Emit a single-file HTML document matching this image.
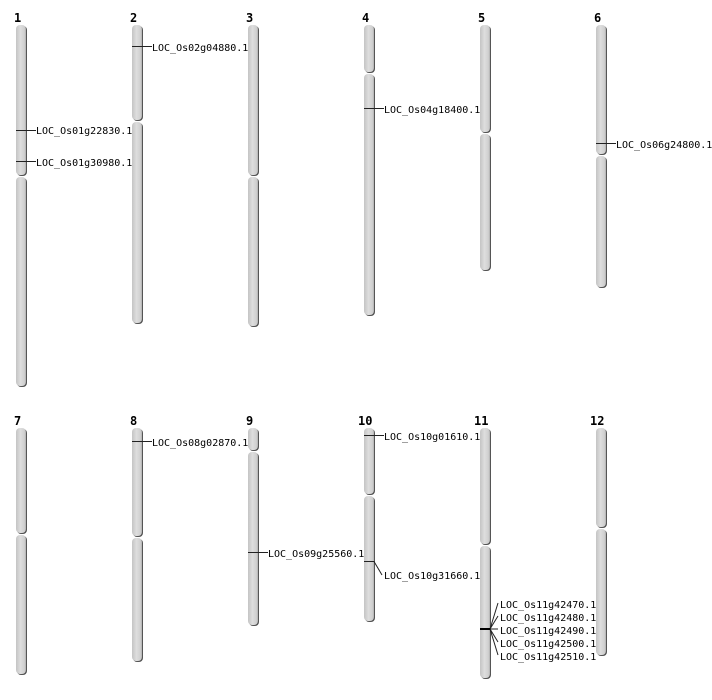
<!DOCTYPE html>
<html><head><meta charset="utf-8"><style>body{margin:0;background:#fff}svg{display:block}text{font-family:"DejaVu Sans Mono","Liberation Mono",monospace;font-size:10px;fill:#000}.n{font-weight:bold;font-size:12px}</style></head><body>
<svg width="712" height="700" viewBox="0 0 712 700" xmlns="http://www.w3.org/2000/svg">
<defs><linearGradient id="g" x1="0" x2="1" y1="0" y2="0"><stop offset="0" stop-color="#c4c4c4"/><stop offset="0.45" stop-color="#dedede"/><stop offset="0.85" stop-color="#cfcfcf"/><stop offset="1" stop-color="#b0b0b0"/></linearGradient></defs>
<g id="chr">
<!-- shadows -->
<g fill="#555">
<rect x="17" y="26" width="10" height="150" rx="4"/><rect x="17" y="178" width="10" height="209" rx="4"/>
<rect x="133" y="26" width="10" height="95" rx="4"/><rect x="133" y="123" width="10" height="201" rx="4"/>
<rect x="249" y="26" width="10" height="150" rx="4"/><rect x="249" y="178" width="10" height="149" rx="4"/>
<rect x="365" y="26" width="10" height="47" rx="4"/><rect x="365" y="75" width="10" height="241" rx="4"/>
<rect x="481" y="26" width="10" height="107" rx="4"/><rect x="481" y="135" width="10" height="136" rx="4"/>
<rect x="597" y="26" width="10" height="129" rx="4"/><rect x="597" y="157" width="10" height="131" rx="4"/>
<rect x="17" y="429" width="10" height="105" rx="4"/><rect x="17" y="536" width="10" height="139" rx="4"/>
<rect x="133" y="429" width="10" height="108" rx="4"/><rect x="133" y="539" width="10" height="123" rx="4"/>
<rect x="249" y="429" width="10" height="22" rx="4"/><rect x="249" y="453" width="10" height="173" rx="4"/>
<rect x="365" y="429" width="10" height="66" rx="4"/><rect x="365" y="497" width="10" height="125" rx="4"/>
<rect x="481" y="429" width="10" height="116" rx="4"/><rect x="481" y="547" width="10" height="132" rx="4"/>
<rect x="597" y="429" width="10" height="99" rx="4"/><rect x="597" y="530" width="10" height="126" rx="4"/>
</g>
<g fill="url(#g)">
<rect x="16" y="25" width="10" height="150" rx="4"/><rect x="16" y="177" width="10" height="209" rx="4"/>
<rect x="132" y="25" width="10" height="95" rx="4"/><rect x="132" y="122" width="10" height="201" rx="4"/>
<rect x="248" y="25" width="10" height="150" rx="4"/><rect x="248" y="177" width="10" height="149" rx="4"/>
<rect x="364" y="25" width="10" height="47" rx="4"/><rect x="364" y="74" width="10" height="241" rx="4"/>
<rect x="480" y="25" width="10" height="107" rx="4"/><rect x="480" y="134" width="10" height="136" rx="4"/>
<rect x="596" y="25" width="10" height="129" rx="4"/><rect x="596" y="156" width="10" height="131" rx="4"/>
<rect x="16" y="428" width="10" height="105" rx="4"/><rect x="16" y="535" width="10" height="139" rx="4"/>
<rect x="132" y="428" width="10" height="108" rx="4"/><rect x="132" y="538" width="10" height="123" rx="4"/>
<rect x="248" y="428" width="10" height="22" rx="4"/><rect x="248" y="452" width="10" height="173" rx="4"/>
<rect x="364" y="428" width="10" height="66" rx="4"/><rect x="364" y="496" width="10" height="125" rx="4"/>
<rect x="480" y="428" width="10" height="116" rx="4"/><rect x="480" y="546" width="10" height="132" rx="4"/>
<rect x="596" y="428" width="10" height="99" rx="4"/><rect x="596" y="529" width="10" height="126" rx="4"/>
</g>
</g>
<g class="n">
<text class="n" x="14" y="22">1</text><text class="n" x="130" y="22">2</text><text class="n" x="246" y="22">3</text><text class="n" x="362" y="22">4</text><text class="n" x="478" y="22">5</text><text class="n" x="594" y="22">6</text>
<text class="n" x="14" y="425">7</text><text class="n" x="130" y="425">8</text><text class="n" x="246" y="425">9</text><text class="n" x="358" y="425">10</text><text class="n" x="474" y="425">11</text><text class="n" x="590" y="425">12</text>
</g>
<g stroke="#222" stroke-width="1" fill="none">
<path d="M16 130.5H36M16 161.5H36M132 46.5H152M364 108.5H384M596 143.5H616M132 441.5H152M248 552.5H268M364 435.5H384M364 561.5H374L382 575"/>
<path d="M490 629L498 603M490 629L498 616M490 629L498 629M490 629L498 642M490 629L498 655"/>
<path d="M480 629H490" stroke="#000" stroke-width="2"/>
</g>
<text x="36" y="134">LOC_Os01g22830.1</text>
<text x="36" y="166">LOC_Os01g30980.1</text>
<text x="152" y="51">LOC_Os02g04880.1</text>
<text x="384" y="113">LOC_Os04g18400.1</text>
<text x="616" y="148">LOC_Os06g24800.1</text>
<text x="152" y="446">LOC_Os08g02870.1</text>
<text x="268" y="557">LOC_Os09g25560.1</text>
<text x="384" y="440">LOC_Os10g01610.1</text>
<text x="384" y="579">LOC_Os10g31660.1</text>
<text x="500" y="608">LOC_Os11g42470.1</text>
<text x="500" y="621">LOC_Os11g42480.1</text>
<text x="500" y="634">LOC_Os11g42490.1</text>
<text x="500" y="647">LOC_Os11g42500.1</text>
<text x="500" y="660">LOC_Os11g42510.1</text>
</svg>
</body></html>
